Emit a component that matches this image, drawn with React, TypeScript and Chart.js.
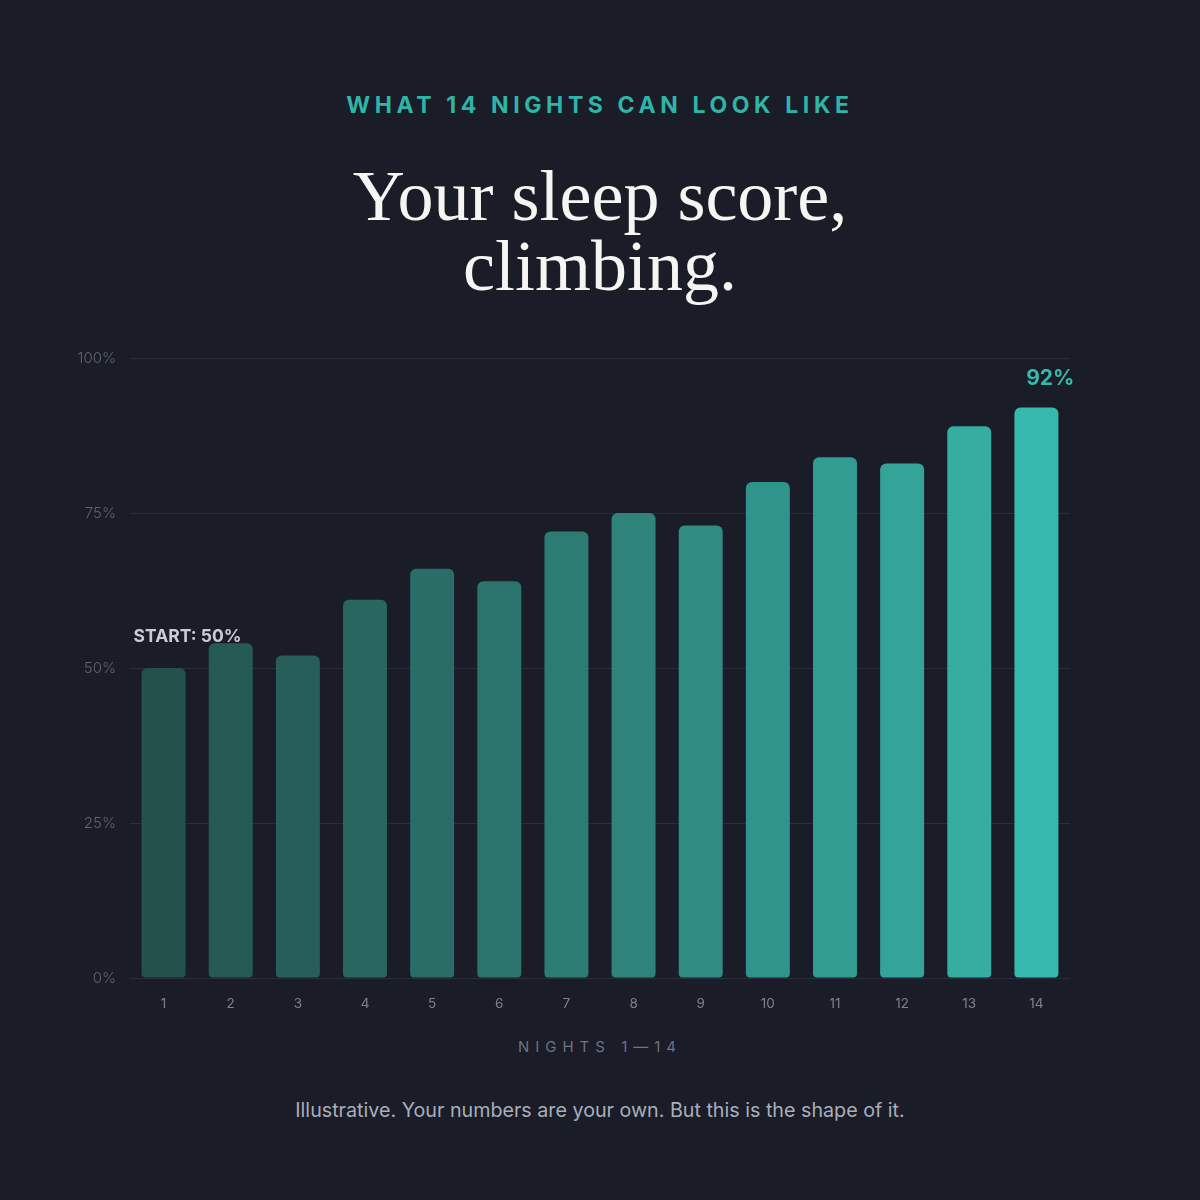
import React, { useEffect, useRef } from "react";
import { Chart, registerables } from "chart.js";

Chart.register(...registerables);

const nights: string[] = ["1", "2", "3", "4", "5", "6", "7", "8", "9", "10", "11", "12", "13", "14"];
const scores: number[] = [50, 54, 52, 61, 66, 64, 72, 75, 73, 80, 84, 83, 89, 92];
const barColors: string[] = [
  "#25514c", "#265a55", "#275e59", "#28665f", "#2a6d67", "#2b746d", "#2c7c74",
  "#2e847b", "#308b82", "#31948a", "#329c91", "#34a498", "#35ad9f", "#37b8ad",
];
const yTicks: number[] = [0, 25, 50, 75, 100];
const startLabel = "START: 50%";
const endLabel = "92%";

const BG = "#1a1c27";
const TEAL = "#37b8ad";

export default function App() {
  const canvasRef = useRef<HTMLCanvasElement | null>(null);

  useEffect(() => {
    document.body.style.margin = "0";
    document.body.style.background = BG;
    const canvas = canvasRef.current;
    if (!canvas) return;

    const annotate = {
      id: "annotate",
      afterDatasetsDraw(chart: any) {
        const meta = chart.getDatasetMeta(0);
        const ctx = chart.ctx;
        ctx.save();
        const first = meta.data[0];
        ctx.font = "700 17.5px Inter";
        ctx.fillStyle = "#c9ccd6";
        ctx.textAlign = "left";
        ctx.textBaseline = "middle";
        ctx.fillText(startLabel, first.x - first.width / 2 - 8, first.y - 31);
        const last = meta.data[meta.data.length - 1];
        ctx.font = "700 21px Inter";
        ctx.fillStyle = TEAL;
        ctx.textAlign = "right";
        ctx.fillText(endLabel, last.x + last.width / 2 + 16, last.y - 29);
        ctx.restore();
      },
    };

    const chart = new Chart(canvas, {
      type: "bar",
      data: {
        labels: nights,
        datasets: [
          {
            data: scores,
            backgroundColor: barColors,
            borderRadius: { topLeft: 6, topRight: 6, bottomLeft: 4, bottomRight: 4 },
            borderSkipped: false,
            barPercentage: 0.655,
            categoryPercentage: 1,
          },
        ],
      },
      options: {
        responsive: false,
        animation: false,
        devicePixelRatio: 1,
        layout: { padding: { left: 60, right: 130, top: 58, bottom: 0 } },
        plugins: { legend: { display: false }, tooltip: { enabled: false } },
        scales: {
          x: {
            grid: { display: false, drawTicks: false },
            border: { display: false },
            ticks: {
              color: "#7c808f",
              font: { family: "Inter", size: 13.5 },
              padding: 18,
            },
            afterFit(scale: any) {
              scale.height = 42;
            },
          },
          y: {
            min: 0,
            max: 100,
            afterBuildTicks(scale: any) {
              scale.ticks = yTicks.map((v) => ({ value: v }));
            },
            grid: { color: "#2a2d3a", lineWidth: 1, drawTicks: false },
            border: { display: false },
            ticks: {
              color: "#5f6372",
              font: { family: "Inter", size: 15, weight: "300" as any },
              padding: 14,
              callback: (v: any) => v + "%",
            },
            afterFit(scale: any) {
              scale.width = 70;
            },
          },
        },
      },
      plugins: [annotate],
    });
    return () => chart.destroy();
  }, []);

  return (
    <div
      style={{
        position: "absolute",
        left: 0,
        top: 0,
        width: 1200,
        height: 1200,
        background: BG,
        overflow: "hidden",
      }}
    >
      <div
        style={{
          position: "absolute",
          top: 91,
          left: 0,
          width: 1200,
          textAlign: "center",
          fontFamily: "Inter",
          fontWeight: 700,
          fontSize: 23,
          lineHeight: "28px",
          letterSpacing: "0.2em",
          color: "#2fb5a8",
        }}
      >
        WHAT 14 NIGHTS CAN LOOK LIKE
      </div>
      <div
        style={{
          position: "absolute",
          top: 161,
          left: 0,
          width: 1200,
          textAlign: "center",
          fontFamily: "'Liberation Serif', serif",
          fontWeight: 400,
          fontSize: 72,
          lineHeight: "70px",
          color: "#f5f5f2",
        }}
      >
        Your sleep score,
        <br />
        climbing.
      </div>
      <canvas
        ref={canvasRef}
        width={1200}
        height={720}
        style={{ position: "absolute", left: 0, top: 300, width: 1200, height: 720 }}
      />
      <div
        style={{
          position: "absolute",
          top: 1037,
          left: 0,
          width: 1200,
          textAlign: "center",
          fontFamily: "Inter",
          fontSize: 15,
          lineHeight: "20px",
          letterSpacing: "0.4em",
          color: "#6f7382",
        }}
      >
        NIGHTS 1—14
      </div>
      <div
        style={{
          position: "absolute",
          top: 1098,
          left: 0,
          width: 1200,
          textAlign: "center",
          fontFamily: "Inter",
          fontSize: 19.7,
          lineHeight: "24px",
          color: "#aaaebb",
        }}
      >
        Illustrative. Your numbers are your own. But this is the shape of it.
      </div>
    </div>
  );
}
